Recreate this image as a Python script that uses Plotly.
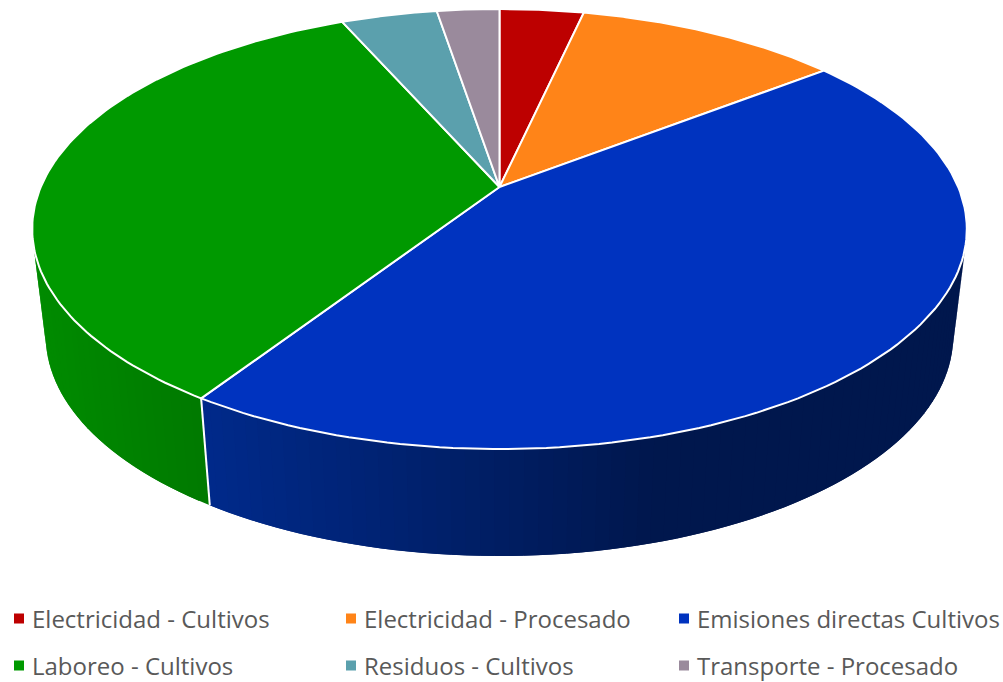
import numpy as np
import plotly.graph_objects as go

categories = ["Electricidad - Cultivos", "Electricidad - Procesado", "Emisiones directas Cultivos",
              "Laboreo - Cultivos", "Residuos - Cultivos", "Transporte - Procesado"]
values = [3.5, 11.0, 44.7, 34.2, 4.0, 2.6]
colors = ["#BD0000", "#FF8418", "#0033BF", "#009900", "#5BA0AD", "#9A8A9C"]
wall_left = {2: (0, 42, 140), 3: (0, 140, 0)}
wall_right = {2: (0, 23, 77), 3: (0, 122, 0)}
wall_span = {2: (202, 650), 3: (40, 202)}
legend_x_px = [-8, 324, 657, -8, 324, 657]
legend_y_px = [619, 619, 619, 666, 666, 666]

# projection of the tilted pie, in pixels of a 1003x682 canvas
W, H = 1003, 682
CX, CY, KP, AY, BX = 499.5, 187.0, 0.191, 212.0, 458.7
LOW_SCALE, LOW_DROP = 0.971, 107.0
WALL_FROM, WALL_TO = 104.0, 256.0
STEP = 1.5


def top(theta):
    t = np.radians(theta)
    X, Y = np.sin(t), np.cos(t)
    d = 1 + KP * Y
    return CX + BX * X / d, CY - AY * Y / d


def low(theta):
    x, y = top(theta)
    return CX + (x - CX) * LOW_SCALE, y + LOW_DROP


edges = np.concatenate([[0], np.cumsum(values)]) / sum(values) * 360
fig = go.Figure()

# side wall: every band is painted over the overlap of the previous one
for i in range(len(values)):
    a, b = max(edges[i], WALL_FROM), min(edges[i + 1], WALL_TO)
    if a >= b:
        continue
    grid = np.append(np.arange(a, b, STEP), b)
    for j in range(len(grid) - 1):
        t0, t1 = grid[j], grid[j + 1]
        t_end = min(t1 + STEP, b)
        th = np.linspace(t0, t_end, 5)
        xs0, ys0 = top(th)
        xs1, ys1 = low(th[::-1])
        xm = (low(t0)[0] + low(t1)[0]) / 2
        f = np.clip((xm - wall_span[i][0]) / (wall_span[i][1] - wall_span[i][0]), 0, 1)
        c = [round(l + (r - l) * f) for l, r in zip(wall_left[i], wall_right[i])]
        col = f"rgb({c[0]},{c[1]},{c[2]})"
        fig.add_trace(go.Scatter(x=list(xs0) + list(xs1), y=list(ys0) + list(ys1), mode="lines", fill="toself",
                                 fillcolor=col, line=dict(width=0), showlegend=False, hoverinfo="skip"))

# dividers on the wall
for e in edges:
    if WALL_FROM < e < WALL_TO:
        xa, ya = top(e)
        xb, yb = low(e)
        fig.add_trace(go.Scatter(x=[xa, xb], y=[ya, yb], mode="lines", line=dict(color="white", width=2),
                                 showlegend=False, hoverinfo="skip"))

# top face
for i, cat in enumerate(categories):
    th = np.linspace(edges[i], edges[i + 1], 120)
    xs, ys = top(th)
    fig.add_trace(go.Scatter(x=[CX] + list(xs) + [CX], y=[CY] + list(ys) + [CY], mode="lines", fill="toself",
                             fillcolor=colors[i], line=dict(color="white", width=2), name=cat,
                             legendgroup=cat, showlegend=False, hoverinfo="name"))

# one legend per entry, so that the 3x2 grid can be placed exactly
legends = {}
for i, cat in enumerate(categories):
    key = "legend" if i == 0 else f"legend{i + 1}"
    fig.add_trace(go.Scatter(x=[None], y=[None], mode="markers", name=cat, legendgroup=cat,
                             marker=dict(symbol="square", size=10, color=colors[i], angle=90, standoff=7),
                             legend=key))
    legends[key] = dict(orientation="h", xanchor="left", yanchor="middle", x=legend_x_px[i] / W,
                        y=1 - legend_y_px[i] / H, bgcolor="rgba(0,0,0,0)",
                        font=dict(family="Open Sans", size=24, color="#595959"),
                        itemclick=False, itemdoubleclick=False)

fig.update_layout(
    width=W, height=H, margin=dict(l=0, r=0, t=0, b=0, autoexpand=False), autosize=False,
    paper_bgcolor="white", plot_bgcolor="white",
    xaxis=dict(range=[0, W], visible=False, fixedrange=True),
    yaxis=dict(range=[H, 0], visible=False, fixedrange=True),
    **legends,
)
fig.write_html("out.html", config=dict(displayModeBar=False),
               post_script="document.body.style.margin='0';document.body.style.overflow='hidden';")
